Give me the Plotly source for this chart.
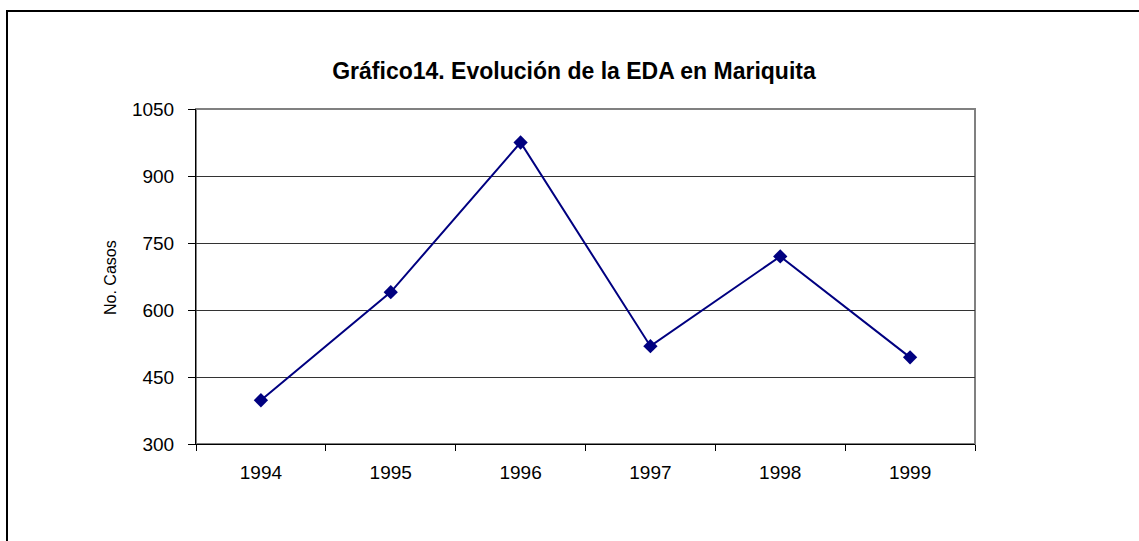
import plotly.graph_objects as go

years = ["1994", "1995", "1996", "1997", "1998", "1999"]
casos = [398, 640, 975, 519, 720, 494]
y_ticks = [300, 450, 600, 750, 900, 1050]

W, H = 1139, 541
L, R, T, B = 196, 975, 109, 444

fig = go.Figure()
fig.add_trace(go.Scatter(
    x=years, y=casos, mode="lines+markers",
    line=dict(color="#000080", width=2),
    marker=dict(symbol="diamond", size=11, color="#000080"),
    showlegend=False, cliponaxis=False,
))

pw, ph = R - L, B - T
def px2paper_x(px):
    return (px - L) / pw
def px2paper_y(py):
    return (B - py) / ph

FONT = "Liberation Sans, Arial, sans-serif"

fig.update_layout(
    width=W, height=H,
    margin=dict(l=L, r=W - R, t=T, b=H - B, pad=0),
    paper_bgcolor="white", plot_bgcolor="white",
    font=dict(family=FONT, color="black", size=19),
    title=dict(text="<b>Gráfico14. Evolución de la EDA en Mariquita</b>",
               x=px2paper_x(574), xref="paper", xanchor="center",
               y=1 - 71 / H, yref="container", yanchor="middle",
               font=dict(size=23, family=FONT)),
    xaxis=dict(
        type="category", range=[-0.5, len(years) - 0.5],
        tickson="boundaries", ticks="outside", ticklen=6,
        tickcolor="black", showline=True, linecolor="black", linewidth=1,
        showgrid=False, tickfont=dict(size=19), ticklabelstandoff=11,
        fixedrange=True,
    ),
    yaxis=dict(
        range=[300, 1050], tickvals=y_ticks, ticks="outside", ticklen=7,
        tickcolor="black", showline=True, linecolor="black", linewidth=1,
        showgrid=True, gridcolor="#333333", gridwidth=1, zeroline=False,
        tickfont=dict(size=19), ticklabelstandoff=10, fixedrange=True,
    ),
    annotations=[
        dict(text="No. Casos", xref="paper", yref="paper",
             x=px2paper_x(110), y=px2paper_y(278), textangle=-90,
             showarrow=False, xanchor="center", yanchor="middle",
             font=dict(size=16, family=FONT)),
    ],
    shapes=[
        dict(type="rect", xref="paper", yref="paper", x0=0, x1=1, y0=0, y1=1,
             line=dict(color="#808080", width=2), layer="below"),
        dict(type="rect", xref="paper", yref="paper",
             x0=px2paper_x(7), x1=px2paper_x(1160),
             y0=px2paper_y(11), y1=px2paper_y(560),
             line=dict(color="black", width=2), layer="above"),
    ],
)

fig.write_html("out.html", config={"displayModeBar": False})
with open("out.html", encoding="utf-8") as f:
    html = f.read()
html = html.replace("<head>", "<head><style>html,body{margin:0;padding:0;overflow:hidden;}</style>", 1)
with open("out.html", "w", encoding="utf-8") as f:
    f.write(html)
